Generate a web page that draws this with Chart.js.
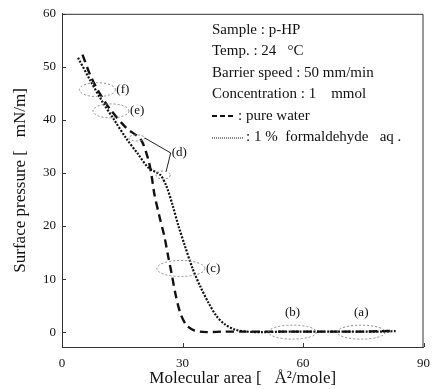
<!DOCTYPE html>
<html>
<head>
<meta charset="utf-8">
<script src="https://cdn.jsdelivr.net/npm/chart.js@4"></script>
<style>
    html, body { margin: 0; padding: 0; background: #fff; }
    #wrap { width: 439px; height: 389px; position: relative; }
</style>
</head>
<body>
<div id="wrap"><canvas id="isotherm"></canvas></div>
<script>
// Data
const waterArea = [5.1, 7, 9, 12, 16, 19.6, 21.5, 22.3, 23, 24.2, 25.5, 26.5, 27.3, 28.3, 29.5, 31, 33, 36, 40, 45, 50, 55, 60, 65, 70, 75, 80, 83];
const waterPressure = [52.3, 48.5, 45.5, 42, 38.5, 36.3, 32.5, 29.5, 26, 22, 18, 14, 11, 7, 3.5, 1.3, 0.3, 0, 0.1, 0.1, 0.1, 0.1, 0.1, 0.1, 0.1, 0.1, 0.2, 0.2];
const formArea = [4, 7, 10, 13, 16, 19, 21.5, 24.5, 26, 27.5, 29, 30.5, 32.5, 34.5, 36.5, 38.5, 40.5, 43, 46, 50, 55, 60, 65, 70, 75, 80, 83];
const formPressure = [51.7, 47.5, 43.5, 40, 36.5, 33.5, 31, 29.6, 27.5, 24, 20, 16.5, 12, 8.5, 5.5, 3, 1.5, 0.5, 0.1, 0, 0.1, 0.1, 0.1, 0.1, 0.1, 0.1, 0.2];
const xTicks = [0, 30, 60, 90];
const yTicks = [0, 10, 20, 30, 40, 50, 60];

const infoLines = ['Sample : p-HP', 'Temp. : 24   \u00B0C', 'Barrier speed : 50 mm/min', 'Concentration : 1    mmol'];
const legendLabels = [': pure water', ': 1 %  formaldehyde   aq .'];

// ellipse marks: label, centre (area, pressure), pixel radii
const marks = [
    { label: '(f)', x: 8.8, y: 45.7, rx: 18, ry: 7 },
    { label: '(e)', x: 12.2, y: 41.7, rx: 18, ry: 7 },
    { label: '(c)', x: 29.6, y: 12, rx: 24, ry: 8 },
    { label: '(b)', x: 57.4, y: 0, rx: 24, ry: 7, above: true },
    { label: '(a)', x: 74.5, y: 0, rx: 24, ry: 7, above: true }
];

const toPoints = (xs, ys) => xs.map((x, i) => ({ x: x, y: ys[i] }));
const serif = '"Liberation Serif", "DejaVu Serif", serif';

const annotate = {
    id: 'annotate',
    afterDatasetsDraw(chart) {
        const ctx = chart.ctx;
        const xs = chart.scales.x;
        const ys = chart.scales.y;
        const area = chart.chartArea;
        ctx.save();

        // inward ticks
        ctx.strokeStyle = '#333';
        ctx.lineWidth = 1;
        ctx.setLineDash([]);
        yTicks.forEach(v => {
            const py = Math.round(ys.getPixelForValue(v)) + 0.5;
            ctx.beginPath(); ctx.moveTo(area.left, py); ctx.lineTo(area.left + 4, py); ctx.stroke();
        });
        xTicks.forEach(v => {
            const px = Math.round(xs.getPixelForValue(v)) + 0.5;
            ctx.beginPath(); ctx.moveTo(px, area.bottom); ctx.lineTo(px, area.bottom - 4); ctx.stroke();
        });

        // ellipses
        ctx.font = '13px ' + serif;
        ctx.textBaseline = 'middle';
        marks.forEach(m => {
            const cx = xs.getPixelForValue(m.x);
            const cy = ys.getPixelForValue(m.y);
            ctx.strokeStyle = '#888';
            ctx.setLineDash([2, 2]);
            ctx.beginPath();
            ctx.ellipse(cx, cy, m.rx, m.ry, 0, 0, Math.PI * 2);
            ctx.stroke();
            ctx.fillStyle = '#111';
            if (m.above) {
                ctx.textAlign = 'center';
                ctx.fillText(m.label, cx, cy - 20);
            } else {
                ctx.textAlign = 'left';
                ctx.fillText(m.label, cx + m.rx + 1, cy);
            }
        });

        // (d) marks with leader lines
        const d1 = { x: xs.getPixelForValue(18.6), y: ys.getPixelForValue(36.6) };
        const d2 = { x: xs.getPixelForValue(25.2), y: ys.getPixelForValue(29.6) };
        ctx.strokeStyle = '#888';
        ctx.setLineDash([2, 2]);
        ctx.beginPath(); ctx.ellipse(d1.x, d1.y, 8, 3, 0, 0, Math.PI * 2); ctx.stroke();
        ctx.beginPath(); ctx.ellipse(d2.x, d2.y, 7, 4, 0, 0, Math.PI * 2); ctx.stroke();
        ctx.setLineDash([]);
        ctx.strokeStyle = '#222';
        const lx = d1.x + 34, ly = d1.y + 15;
        ctx.beginPath();
        ctx.moveTo(d1.x + 8, d1.y);
        ctx.lineTo(lx, ly);
        ctx.lineTo(d2.x + 3, d2.y - 4);
        ctx.stroke();
        ctx.fillStyle = '#111';
        ctx.textAlign = 'left';
        ctx.fillText('(d)', lx + 1, ly);

        // info box text
        ctx.font = '15px ' + serif;
        ctx.textBaseline = 'middle';
        const tx = 212;
        let ty = 30;
        infoLines.forEach(t => {
            ctx.fillText(t, tx, ty);
            ty += 21.5;
        });
        // legend lines
        ctx.strokeStyle = '#111';
        ctx.lineWidth = 2;
        ctx.setLineDash([5, 3]);
        ctx.beginPath(); ctx.moveTo(tx, ty); ctx.lineTo(tx + 24, ty); ctx.stroke();
        ctx.fillText(legendLabels[0], tx + 26, ty);
        ty += 21;
        ctx.lineWidth = 1;
        ctx.setLineDash([1, 1]);
        ctx.beginPath(); ctx.moveTo(tx, ty + 1); ctx.lineTo(tx + 32, ty + 1); ctx.stroke();
        ctx.fillText(legendLabels[1], tx + 34, ty);

        ctx.restore();
    }
};

new Chart(document.getElementById('isotherm'), {
    type: 'scatter',
    data: {
        datasets: [
            {
                label: 'pure water',
                data: toPoints(waterArea, waterPressure),
                showLine: true,
                borderColor: '#111',
                borderWidth: 2.4,
                borderDash: [8, 5],
                pointRadius: 0,
                tension: 0.3
            },
            {
                label: '1 % formaldehyde aq.',
                data: toPoints(formArea, formPressure),
                showLine: true,
                borderColor: '#111',
                borderWidth: 2.2,
                borderDash: [2, 1.5],
                pointRadius: 0,
                tension: 0.3
            }
        ]
    },
    options: {
        responsive: true,
        maintainAspectRatio: false,
        animation: false,
        layout: { padding: { top: 13, right: 11, left: 6, bottom: 0 } },
        plugins: {
            legend: { display: false },
            tooltip: { enabled: false }
        },
        scales: {
            x: {
                type: 'linear',
                min: 0,
                max: 90,
                afterBuildTicks: s => { s.ticks = xTicks.map(v => ({ value: v })); },
                afterFit: s => { s.height = 42; },
                grid: { display: false, drawTicks: false },
                border: { color: '#333', width: 1 },
                ticks: { color: '#111', font: { family: serif, size: 13 }, padding: 9, maxRotation: 0 },
                title: { display: true, text: 'Molecular area [   \u00C5\u00B2/mole]', color: '#111', font: { family: serif, size: 17 }, padding: { top: 4, bottom: 0 } }
            },
            y: {
                type: 'linear',
                min: -2.8,
                max: 60,
                afterBuildTicks: s => { s.ticks = yTicks.map(v => ({ value: v })); },
                afterFit: s => { s.width = 56; },
                grid: { display: false, drawTicks: false },
                border: { color: '#333', width: 1 },
                ticks: { color: '#111', font: { family: serif, size: 13 }, padding: 6 },
                title: { display: true, text: 'Surface pressure [   mN/m]', color: '#111', font: { family: serif, size: 17 }, padding: { bottom: 4 } }
            }
        }
    },
    plugins: [annotate, {
        id: 'frame',
        afterDraw(chart) {
            const a = chart.chartArea;
            const ctx = chart.ctx;
            ctx.save();
            ctx.strokeStyle = '#333';
            ctx.lineWidth = 1;
            ctx.beginPath();
            ctx.moveTo(a.left, a.top + 0.5); ctx.lineTo(a.right - 0.5, a.top + 0.5); ctx.lineTo(a.right - 0.5, a.bottom);
            ctx.stroke();
            ctx.restore();
        }
    }]
});
</script>
</body>
</html>
